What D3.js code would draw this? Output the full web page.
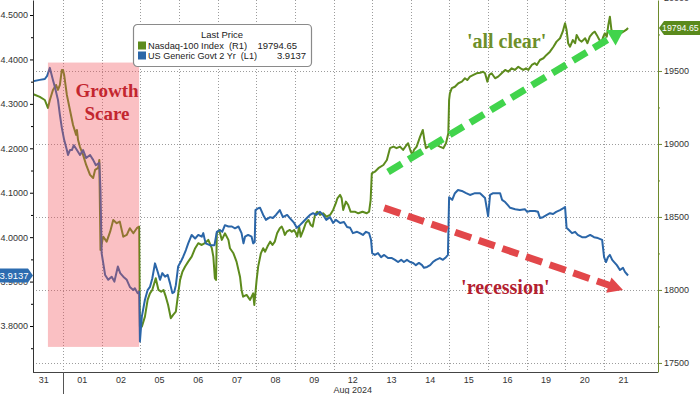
<!DOCTYPE html>
<html>
<head>
<meta charset="utf-8">
<script src="https://cdn.jsdelivr.net/npm/d3@7"></script>
<style>
  body { margin: 0; background: #fff; }
  svg { display: block; font-family: "Liberation Sans", Arial, sans-serif; }
</style>
</head>
<body>
<div id="chart"></div>
<script>
// trading days shown on the x axis (Jul 31 .. Aug 21 2024)
var dayLabels = ["31","01","02","05","06","07","08","09","12","13","14","15","16","19","20","21"];
var leftTicks = [3.8, 3.9, 4.0, 4.1, 4.2, 4.3, 4.4, 4.5];
var leftMinor = [3.75, 3.85, 3.95, 4.05, 4.15, 4.25, 4.35, 4.45];
var rightTicks = [17500, 18000, 18500, 19000, 19500, 20000];
var rightMinor = [17750, 18250, 18750, 19250, 19750];

// [day position, value]; day position 0 = start of Jul 31, 1 = start of Aug 01 ...
// Nasdaq-100 Index (right axis)
var ndxPts = [
  [0.22,19342],[0.40,19322],[0.53,19301],[0.61,19247],[0.66,19301],[0.74,19370],[0.82,19404],[0.87,19370],
  [0.92,19404],[0.97,19507],[1.00,19507],[1.03,19473],[1.10,19336],[1.18,19233],[1.26,19130],[1.34,19062],
  [1.36,19096],[1.39,19027],[1.44,18979],[1.52,18925],[1.60,18856],[1.65,18822],[1.70,18788],[1.78,18767],
  [1.83,18822],[1.91,18836],[1.94,18890],[1.97,18274],[2.04,18365],[2.13,18331],[2.22,18399],[2.30,18479],
  [2.39,18457],[2.47,18468],[2.56,18365],[2.65,18377],[2.73,18423],[2.82,18388],[2.91,18423],[2.97,18434],
  [2.99,17749],[3.04,17749],[3.12,17817],[3.19,17932],[3.25,17977],[3.31,18000],[3.40,18080],[3.47,18000],
  [3.54,17988],[3.60,18000],[3.66,17954],[3.72,17897],[3.79,17806],[3.85,17829],[3.92,17851],[3.97,17954],
  [4.03,18069],[4.09,18125],[4.16,18160],[4.24,18194],[4.33,18228],[4.42,18286],[4.50,18320],[4.59,18308],
  [4.67,18320],[4.76,18343],[4.85,18286],[4.89,18228],[4.93,18080],[4.96,18069],[4.98,18388],[5.04,18411],
  [5.11,18343],[5.19,18388],[5.28,18343],[5.32,18286],[5.41,18251],[5.49,18194],[5.58,18091],[5.62,18000],
  [5.66,17954],[5.75,17966],[5.84,17932],[5.92,17977],[5.95,17897],[6.01,18069],[6.05,18160],[6.12,18251],
  [6.18,18286],[6.23,18262],[6.29,18297],[6.36,18331],[6.42,18308],[6.48,18331],[6.54,18388],[6.61,18423],
  [6.66,18434],[6.70,18411],[6.74,18377],[6.79,18399],[6.87,18411],[6.92,18399],[6.98,18411],[7.03,18388],
  [7.06,18365],[7.11,18434],[7.15,18365],[7.22,18411],[7.28,18457],[7.35,18479],[7.41,18445],[7.46,18434],
  [7.52,18514],[7.58,18536],[7.65,18514],[7.73,18525],[7.82,18502],[7.91,18514],[7.99,18548],[8.06,18594],
  [8.10,18628],[8.17,18651],[8.21,18628],[8.25,18548],[8.32,18605],[8.38,18582],[8.44,18536],[8.55,18536],
  [8.64,18525],[8.75,18536],[8.86,18525],[8.92,18536],[8.96,18616],[8.99,18799],[9.07,18810],[9.16,18834],
  [9.29,18856],[9.38,18890],[9.46,18971],[9.55,18982],[9.63,18971],[9.72,18982],[9.80,18959],[9.89,18993],
  [9.93,19005],[10.00,18947],[10.04,18925],[10.08,18959],[10.15,18982],[10.24,19050],[10.31,19096],[10.35,19027],
  [10.39,18971],[10.45,18982],[10.58,18993],[10.67,18993],[10.75,18982],[10.84,18971],[10.91,19005],[10.97,19073],
  [10.99,19301],[11.01,19347],[11.06,19382],[11.14,19392],[11.23,19416],[11.32,19427],[11.40,19450],[11.46,19438],
  [11.53,19461],[11.62,19473],[11.70,19484],[11.79,19488],[11.87,19495],[11.92,19484],[11.98,19427],[12.03,19473],
  [12.09,19484],[12.18,19450],[12.26,19461],[12.35,19484],[12.44,19507],[12.52,19495],[12.61,19518],[12.69,19507],
  [12.78,19529],[12.84,19518],[12.91,19507],[12.98,19518],[13.04,19507],[13.13,19541],[13.21,19553],[13.26,19541],
  [13.34,19575],[13.43,19587],[13.51,19610],[13.60,19632],[13.69,19666],[13.77,19701],[13.86,19724],[13.93,19769],
  [13.99,19827],[14.03,19781],[14.07,19690],[14.12,19666],[14.19,19712],[14.25,19690],[14.29,19747],[14.36,19712],
  [14.42,19701],[14.51,19724],[14.57,19690],[14.63,19735],[14.70,19758],[14.76,19769],[14.81,19747],[14.88,19712],
  [14.94,19701],[14.98,19735],[15.02,19758],[15.07,19735],[15.11,19815],[15.15,19872],[15.19,19781],[15.24,19769],
  [15.31,19735],[15.37,19747],[15.43,19758],[15.50,19769],[15.57,19781],[15.62,19794.65]
];

// US Generic Govt 2 Yr yield (left axis)
var ust2Pts = [
  [0.22,4.351],[0.40,4.354],[0.53,4.356],[0.59,4.363],[0.66,4.381],[0.74,4.354],[0.79,4.338],[0.87,4.309],
  [0.92,4.275],[0.97,4.246],[1.03,4.219],[1.10,4.196],[1.13,4.185],[1.18,4.196],[1.23,4.196],[1.28,4.207],
  [1.36,4.196],[1.44,4.185],[1.52,4.196],[1.60,4.178],[1.70,4.185],[1.78,4.174],[1.85,4.162],[1.94,4.167],
  [1.97,4.106],[2.00,3.964],[2.09,3.915],[2.17,3.904],[2.26,3.911],[2.33,3.900],[2.42,3.934],[2.48,3.919],
  [2.56,3.911],[2.65,3.904],[2.73,3.888],[2.82,3.881],[2.86,3.885],[2.93,3.874],[2.97,3.877],[2.99,3.765],
  [3.04,3.821],[3.12,3.859],[3.19,3.881],[3.25,3.888],[3.31,3.907],[3.38,3.941],[3.45,3.922],[3.51,3.904],
  [3.57,3.919],[3.64,3.911],[3.71,3.915],[3.77,3.896],[3.83,3.874],[3.88,3.877],[3.92,3.892],[3.98,3.934],
  [4.05,3.945],[4.11,3.956],[4.18,3.971],[4.24,3.986],[4.33,4.005],[4.42,3.997],[4.50,4.005],[4.59,4.001],
  [4.63,4.009],[4.69,3.986],[4.80,3.982],[4.92,3.982],[4.98,4.012],[5.06,4.016],[5.12,4.012],[5.19,4.027],
  [5.28,4.024],[5.37,4.024],[5.45,4.020],[5.54,4.024],[5.62,4.009],[5.67,3.986],[5.71,4.001],[5.79,4.005],
  [5.88,4.001],[5.92,3.986],[5.96,3.989],[5.98,4.061],[6.05,4.065],[6.10,4.066],[6.18,4.050],[6.25,4.039],
  [6.36,4.045],[6.43,4.043],[6.51,4.050],[6.61,4.061],[6.69,4.045],[6.80,4.050],[6.87,4.043],[6.98,4.032],
  [7.05,4.021],[7.13,4.027],[7.21,4.034],[7.31,4.043],[7.39,4.050],[7.47,4.054],[7.55,4.050],[7.65,4.057],
  [7.73,4.050],[7.81,4.039],[7.91,4.045],[7.99,4.032],[8.06,4.039],[8.17,4.032],[8.27,4.034],[8.35,4.023],
  [8.43,4.021],[8.50,4.009],[8.61,4.012],[8.68,4.009],[8.76,4.005],[8.84,4.012],[8.92,4.009],[8.97,3.994],
  [9.00,3.964],[9.07,3.960],[9.15,3.964],[9.23,3.955],[9.31,3.960],[9.41,3.953],[9.51,3.953],[9.59,3.949],
  [9.67,3.944],[9.75,3.949],[9.82,3.944],[9.90,3.949],[9.98,3.944],[10.06,3.942],[10.13,3.937],[10.21,3.942],
  [10.29,3.937],[10.34,3.931],[10.42,3.933],[10.50,3.937],[10.57,3.944],[10.65,3.949],[10.75,3.953],[10.83,3.949],
  [10.91,3.955],[10.96,3.960],[10.99,4.090],[11.07,4.084],[11.14,4.099],[11.22,4.106],[11.32,4.104],[11.43,4.099],
  [11.53,4.095],[11.66,4.099],[11.79,4.099],[11.92,4.088],[12.00,4.047],[12.05,4.095],[12.13,4.099],[12.23,4.099],
  [12.31,4.099],[12.36,4.084],[12.44,4.079],[12.51,4.072],[12.57,4.066],[12.70,4.063],[12.82,4.061],[12.95,4.063],
  [13.01,4.057],[13.08,4.059],[13.21,4.059],[13.29,4.057],[13.34,4.043],[13.42,4.045],[13.52,4.050],[13.60,4.054],
  [13.68,4.052],[13.76,4.057],[13.86,4.061],[13.96,4.066],[13.99,4.068],[14.03,4.021],[14.09,4.016],[14.17,4.009],
  [14.25,4.012],[14.32,4.005],[14.43,4.000],[14.53,4.000],[14.64,4.005],[14.74,4.000],[14.84,3.998],[14.95,3.994],
  [14.97,3.978],[15.00,3.955],[15.05,3.944],[15.10,3.955],[15.15,3.960],[15.21,3.949],[15.26,3.944],[15.33,3.937],
  [15.41,3.926],[15.49,3.931],[15.54,3.922],[15.62,3.9137]
];

// annotations (in day position / axis units)
var scareDays = [0.61, 2.97];
var scareRange = [3.753, 4.393];
var clearArrow = [[9.41, 18808], [15.51, 19781]];   // right axis
var recessArrow = [[9.31, 4.066], [15.49, 3.881]];  // left axis

function draw(){
    var width = 700, height = 394;
    var plot = {left: 33, right: 658, top: 0, bottom: 372};
    var green = "#5d8b1d", blue = "#2b66a8";

    var svg = d3.select("#chart").append("svg")
        .attr("width", width)
        .attr("height", height);

    var x = d3.scaleLinear().domain([0.224, 16.395]).range([plot.left, plot.right]);
    var yL = d3.scaleLinear().domain([3.6965, 4.5338]).range([plot.bottom, plot.top]);
    var yR = d3.scaleLinear().domain([17438, 19986]).range([plot.bottom, plot.top]);

    svg.append("clipPath").attr("id", "clip")
      .append("rect")
        .attr("x", plot.left).attr("y", plot.top)
        .attr("width", plot.right - plot.left).attr("height", plot.bottom - plot.top);

    // dotted grid
    var grid = svg.append("g").attr("stroke", "#9c9c9c").attr("stroke-dasharray", "1,2");
    grid.selectAll(".h").data(rightTicks.filter(function(d){ return d < 20000; }))
      .join("line")
        .attr("x1", plot.left).attr("x2", plot.right)
        .attr("y1", function(d){ return Math.round(yR(d)) + 0.5; })
        .attr("y2", function(d){ return Math.round(yR(d)) + 0.5; });
    grid.selectAll(".v").data(d3.range(1, dayLabels.length))
      .join("line")
        .attr("y1", plot.top).attr("y2", plot.bottom)
        .attr("x1", function(d){ return Math.round(x(d)) + 0.5; })
        .attr("x2", function(d){ return Math.round(x(d)) + 0.5; });

    // series
    var lines = svg.append("g").attr("clip-path", "url(#clip)");
    lines.append("path")
        .datum(ndxPts)
        .attr("d", d3.line()
            .x(function(d){ return x(d[0]); })
            .y(function(d){ return yR(d[1]); }))
        .attr("fill", "none")
        .attr("stroke", green)
        .attr("stroke-width", 2)
        .attr("stroke-linejoin", "round");
    lines.append("path")
        .datum(ust2Pts)
        .attr("d", d3.line()
            .x(function(d){ return x(d[0]); })
            .y(function(d){ return yL(d[1]); }))
        .attr("fill", "none")
        .attr("stroke", blue)
        .attr("stroke-width", 2)
        .attr("stroke-linejoin", "round");

    // growth scare band, drawn over the lines
    svg.append("rect")
        .attr("x", x(scareDays[0]))
        .attr("width", x(scareDays[1]) - x(scareDays[0]))
        .attr("y", yL(scareRange[1]))
        .attr("height", yL(scareRange[0]) - yL(scareRange[1]))
        .attr("fill", "rgb(240,80,90)")
        .attr("fill-opacity", 0.36);

    // axes
    var left = svg.append("g")
        .attr("transform", "translate(" + plot.left + ",0)")
        .call(d3.axisLeft(yL).tickValues(leftTicks).tickFormat(d3.format(".4f"))
            .tickSize(3).tickSizeOuter(0).tickPadding(2));
    svg.append("g")
        .attr("transform", "translate(" + plot.left + ",0)")
        .call(d3.axisLeft(yL).tickValues(leftMinor).tickFormat("").tickSize(2).tickSizeOuter(0))
        .select(".domain").remove();

    var right = svg.append("g")
        .attr("transform", "translate(" + plot.right + ",0)")
        .call(d3.axisRight(yR).tickValues(rightTicks).tickFormat(d3.format("d"))
            .tickSize(4).tickSizeOuter(0).tickPadding(2));
    var rightMin = svg.append("g")
        .attr("transform", "translate(" + plot.right + ",0)")
        .call(d3.axisRight(yR).tickValues(rightMinor).tickFormat("").tickSize(2).tickSizeOuter(0));
    rightMin.select(".domain").remove();
    right.selectAll("line, .domain").attr("stroke", "#6d8a2c");
    rightMin.selectAll("line").attr("stroke", "#6d8a2c");

    svg.selectAll(".tick text")
        .attr("font-size", 9)
        .attr("font-family", "Liberation Sans, Arial, sans-serif")
        .attr("fill", "#333");
    left.select(".domain").attr("stroke", "#333");

    // x axis
    svg.append("line")
        .attr("x1", plot.left).attr("x2", plot.right)
        .attr("y1", plot.bottom + 0.5).attr("y2", plot.bottom + 0.5)
        .attr("stroke", "#444");
    svg.append("line")
        .attr("x1", Math.round(x(1)) + 0.5).attr("x2", Math.round(x(1)) + 0.5)
        .attr("y1", plot.bottom).attr("y2", height)
        .attr("stroke", "#555");
    svg.append("g").selectAll("text").data(dayLabels)
      .join("text")
        .attr("x", function(d, i){ return x(i + 0.5); })
        .attr("y", plot.bottom + 11)
        .attr("text-anchor", "middle")
        .attr("font-size", 9)
        .attr("fill", "#333")
        .text(function(d){ return d; });
    svg.append("text")
        .attr("x", x(8.5)).attr("y", height - 1)
        .attr("text-anchor", "middle")
        .attr("font-size", 9)
        .attr("fill", "#333")
        .text("Aug 2024");

    // dashed arrows
    function arrow(p1, p2, color, dash, headLen, headHalf){
        var dx = p2[0] - p1[0], dy = p2[1] - p1[1];
        var len = Math.sqrt(dx * dx + dy * dy);
        var ux = dx / len, uy = dy / len;
        var bx = p2[0] - ux * headLen, by = p2[1] - uy * headLen;
        svg.append("line")
            .attr("x1", p1[0]).attr("y1", p1[1])
            .attr("x2", bx + ux * 2).attr("y2", by + uy * 2)
            .attr("stroke", color)
            .attr("stroke-width", 7)
            .attr("stroke-dasharray", dash);
        svg.append("polygon")
            .attr("points", [
                [p2[0], p2[1]],
                [bx - uy * headHalf, by + ux * headHalf],
                [bx + uy * headHalf, by - ux * headHalf]
            ].map(function(p){ return p.join(","); }).join(" "))
            .attr("fill", color);
    }
    arrow([x(clearArrow[0][0]), yR(clearArrow[0][1])], [x(clearArrow[1][0]), yR(clearArrow[1][1])],
        "#41d44c", "16,8", 15, 9);
    arrow([x(recessArrow[0][0]), yL(recessArrow[0][1])], [x(recessArrow[1][0]), yL(recessArrow[1][1])],
        "#e2474a", "17,8", 15, 8);

    // annotation text
    var serif = "Liberation Serif, Times New Roman, serif";
    svg.append("text").attr("x", x(2.14)).attr("y", yL(4.315))
        .attr("text-anchor", "middle").attr("font-family", serif).attr("font-weight", "bold")
        .attr("font-size", 19).attr("fill", "#c3262f").text("Growth");
    svg.append("text").attr("x", x(2.14)).attr("y", yL(4.264))
        .attr("text-anchor", "middle").attr("font-family", serif).attr("font-weight", "bold")
        .attr("font-size", 19).attr("fill", "#c3262f").text("Scare");
    svg.append("text").attr("x", x(11.45)).attr("y", yR(19658))
        .attr("font-family", serif).attr("font-weight", "bold")
        .attr("font-size", 20).attr("fill", "#6e8f2a").text("'all clear'");
    svg.append("text").attr("x", x(11.30)).attr("y", yL(3.872))
        .attr("font-family", serif).attr("font-weight", "bold")
        .attr("font-size", 20).attr("fill", "#b3202f").text("'recession'");

    // legend
    var lastN = ndxPts[ndxPts.length - 1][1], lastU = ust2Pts[ust2Pts.length - 1][1];
    var lg = svg.append("g").attr("transform", "translate(133,24)").attr("font-size", 9.5).attr("fill", "#222");
    lg.append("rect").attr("x", 0.5).attr("y", 0.5).attr("width", 178).attr("height", 42).attr("rx", 4)
        .attr("fill", "#fff").attr("stroke", "#8a8a8a").attr("stroke-width", 1.2);
    lg.append("text").attr("x", 89).attr("y", 14).attr("text-anchor", "middle").text("Last Price");
    lg.append("rect").attr("x", 5).attr("y", 17.5).attr("width", 8).attr("height", 8).attr("fill", green);
    lg.append("rect").attr("x", 5).attr("y", 27.5).attr("width", 8).attr("height", 8).attr("fill", blue);
    lg.append("text").attr("x", 15).attr("y", 24.5).attr("textLength", 99).attr("lengthAdjust", "spacingAndGlyphs")
        .attr("xml:space", "preserve").text("Nasdaq-100 Index  (R1)");
    lg.append("text").attr("x", 164).attr("y", 24.5).attr("text-anchor", "end").text(d3.format(".2f")(lastN));
    lg.append("text").attr("x", 15).attr("y", 34.5).attr("textLength", 109).attr("lengthAdjust", "spacingAndGlyphs")
        .attr("xml:space", "preserve").text("US Generic Govt 2 Yr  (L1)");
    lg.append("text").attr("x", 173).attr("y", 34.5).attr("text-anchor", "end").text(d3.format(".4f")(lastU));

    // last value tags
    var yb = yL(lastU);
    svg.append("path")
        .attr("d", "M0," + (yb - 7) + "L28," + (yb - 7) + "L33," + yb + "L28," + (yb + 7) + "L0," + (yb + 7) + "Z")
        .attr("fill", "#2c6cb0");
    svg.append("text").attr("x", 14).attr("y", yb + 3.5).attr("text-anchor", "middle")
        .attr("font-size", 9.5).attr("fill", "#fff").text(d3.format(".4f")(lastU));
    var yg = yR(lastN);
    svg.append("path")
        .attr("d", "M700," + (yg - 7) + "L664," + (yg - 7) + "L659," + yg + "L664," + (yg + 7) + "L700," + (yg + 7) + "Z")
        .attr("fill", "#5a8a1c");
    svg.append("text").attr("x", 662).attr("y", yg + 3.3)
        .attr("font-size", 8.8).attr("fill", "#fff").text(d3.format(".2f")(lastN));
}
draw();
</script>
</body>
</html>
